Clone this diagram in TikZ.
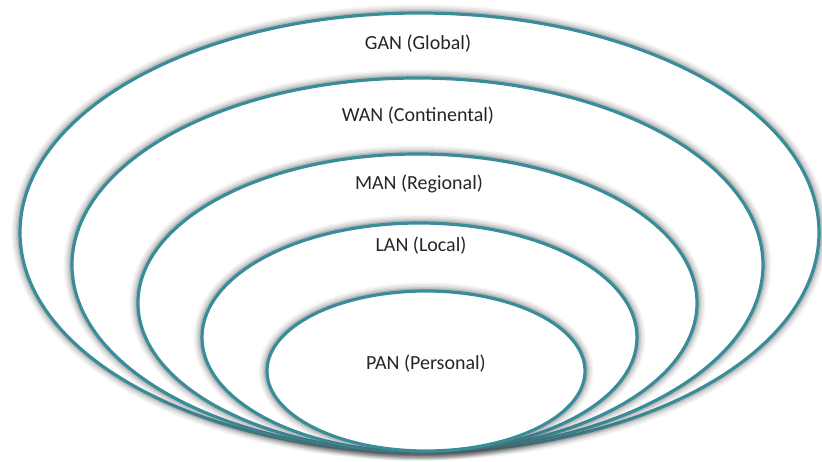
\documentclass[tikz,border=0pt]{standalone}
\usepackage{fontspec}
\setmainfont{Carlito}
\definecolor{ringteal}{HTML}{398C99}
\definecolor{labeltext}{HTML}{262626}
\definecolor{glowgray}{HTML}{505050}
\begin{document}
\begin{tikzpicture}[x=1pt,y=-1pt,
  ring/.style={draw=ringteal, line width=3.2pt, fill=white},
  glow/.style={draw=glowgray, fill=none},
  lbl/.style={font=\fontsize{20}{24}\selectfont, text=labeltext, inner sep=0pt}]
\useasboundingbox (0,0) rectangle (822,462);

% one ring: soft grey halo, white body, teal outline
\newcommand\netring[4]{%
  \foreach \w/\o in {17/0.05, 14/0.07, 11/0.09, 8/0.12, 5.5/0.16}
    \draw[glow, line width=\w pt, opacity=\o] (#1,#2) ellipse [x radius=#3, y radius=#4];
  \draw[ring] (#1,#2) ellipse [x radius=#3, y radius=#4];
}

% rings from the widest scope to the narrowest
\netring{419.5}{232.5}{399.5}{219.5}
\netring{417.5}{265}{345.5}{187}
\netring{417.5}{303}{279.5}{149}
\netring{419.5}{337.5}{217.5}{114.5}
\netring{426}{371}{159}{80}

\node[lbl] (gan) at (418,44) {GAN (Global)};
\node[lbl] (wan) at (418,116) {WAN (Continental)};
\node[lbl] (man) at (419,184) {MAN (Regional)};
\node[lbl] (lan) at (421,246) {LAN (Local)};
\node[lbl] (pan) at (426,364) {PAN (Personal)};
\end{tikzpicture}
\end{document}
